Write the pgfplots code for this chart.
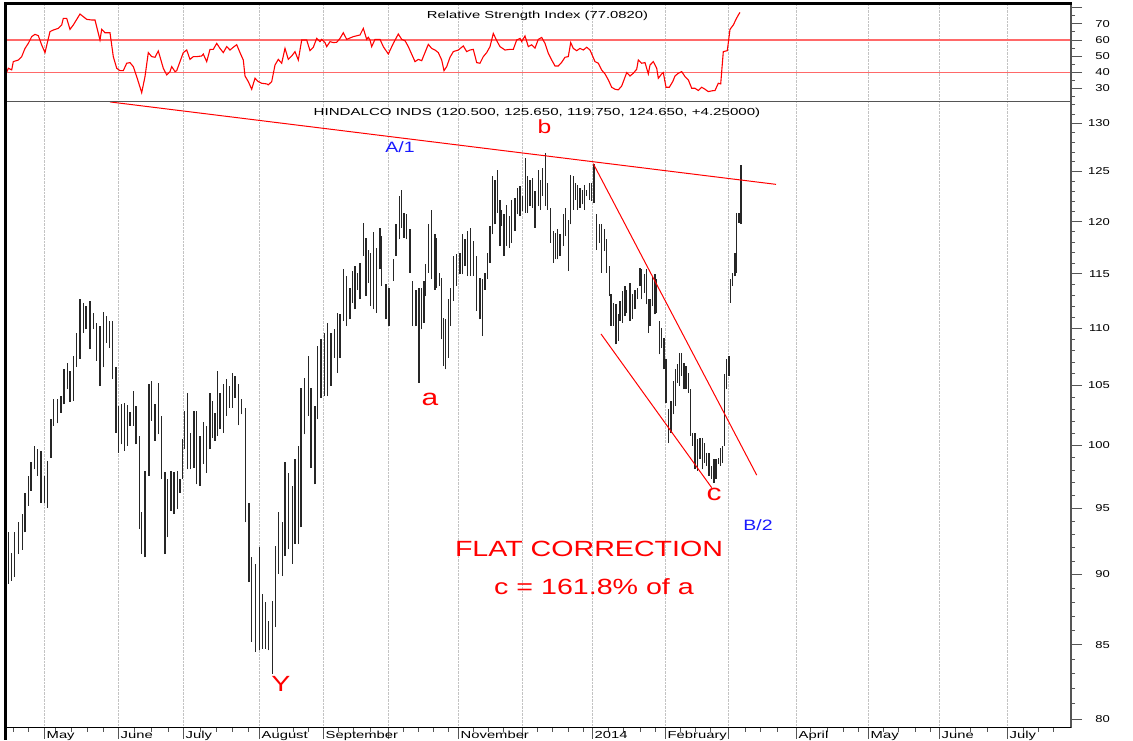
\documentclass[border=0pt]{standalone}
\usepackage{fontspec}
\setmainfont{Liberation Sans}
\newfontfamily\widefont[FakeStretch=1.45]{Liberation Sans}
\newfontfamily\hdfont[FakeStretch=1.48]{Liberation Sans}
\newfontfamily\numfont[FakeStretch=1.3]{Liberation Sans}
\newfontfamily\bigfont[FakeStretch=1.3]{Liberation Sans}
\usepackage{pgfplots}
\usepackage{pgfplotstable}
\pgfplotsset{compat=1.18}
\definecolor{lvlred}{RGB}{255,105,105}
\definecolor{axgray}{RGB}{85,85,85}
\definecolor{gridgray}{RGB}{195,195,195}
\definecolor{annblue}{RGB}{25,25,255}

\pgfplotstableread{
x h l
8.3 93.14 89.33
11.7 91.60 89.56
14.3 93.19 89.81
18.3 93.95 91.52
22.3 94.54 91.84
25.0 96.22 93.14
28.3 97.53 95.18
31.0 98.65 96.35
34.3 99.95 98.06
37.7 99.67 97.53
41.0 99.54 95.44
44.3 97.53 95.44
47.7 98.73 95.05
51.0 102.14 99.00
53.3 103.87 101.59
57.3 103.82 101.81
61.0 104.10 102.70
64.0 106.40 103.40
67.3 106.98 104.67
70.0 106.26 103.59
73.3 107.56 103.68
76.7 109.62 106.63
80.0 112.63 107.27
83.3 112.33 109.62
86.0 112.02 109.92
90.0 112.48 108.14
93.3 111.41 109.92
96.7 110.51 107.12
100.0 110.21 104.95
103.3 111.50 106.55
106.7 111.11 108.73
109.3 110.66 108.29
112.7 110.66 105.52
116.0 106.63 101.04
118.3 103.25 99.40
121.7 103.40 100.08
124.3 103.48 99.54
127.7 103.31 99.95
130.0 102.75 101.59
133.3 104.53 101.59
136.0 103.25 100.08
139.3 100.76 93.40
141.7 94.67 91.52
145.0 97.93 91.27
149.0 105.10 97.53
151.7 105.38 102.00
155.0 103.40 100.35
158.3 105.24 100.90
161.7 102.42 97.27
165.0 97.85 91.52
167.7 97.27 92.77
171.0 97.93 94.79
174.0 97.85 94.54
177.7 97.93 94.92
180.0 97.27 96.22
182.3 100.49 97.27
184.3 102.84 99.67
187.7 104.33 98.06
190.7 101.04 98.06
194.0 102.84 98.20
196.7 102.84 96.87
200.0 100.76 96.74
203.3 101.92 98.47
206.7 101.59 97.80
210.0 104.38 99.67
212.3 103.68 100.63
215.0 102.70 100.35
217.3 106.26 100.76
220.0 104.38 101.31
223.3 105.10 101.04
226.7 105.52 102.42
229.3 104.95 103.11
232.7 106.03 103.11
235.0 105.81 103.96
238.3 105.10 101.64
241.7 103.82 102.56
245.7 103.11 93.90
249.0 95.39 89.44
251.7 91.27 85.17
255.7 90.78 84.49
259.3 92.02 84.60
262.3 88.60 84.72
265.7 88.00 84.72
268.3 86.69 84.60
272.3 88.05 83.01
275.7 92.14 86.22
278.3 94.67 90.05
282.3 93.95 89.88
285.0 98.65 91.40
288.3 97.80 91.89
292.3 96.74 90.78
295.0 98.87 92.27
298.3 99.95 92.27
301.0 104.81 93.52
304.3 105.67 100.90
308.3 107.56 102.42
311.0 104.81 98.20
315.0 103.25 96.87
317.7 108.44 102.14
321.0 109.03 103.96
324.3 109.62 104.10
327.7 110.51 104.10
331.0 109.62 104.95
334.3 109.92 107.41
337.7 111.41 106.11
340.0 111.26 107.41
343.3 115.41 110.66
346.7 114.79 110.21
350.0 113.70 110.81
352.7 115.26 112.32
355.0 115.72 111.71
357.3 115.04 113.54
360.0 116.04 112.63
363.3 119.88 116.67
366.0 118.43 112.93
368.3 117.30 114.17
370.7 116.99 112.02
373.3 118.97 111.71
376.7 117.46 111.41
380.0 119.40 115.41
381.7 118.59 113.85
386.0 114.01 110.81
389.0 113.70 110.21
393.3 116.36 114.32
396.0 119.72 116.67
399.3 122.58 118.27
401.7 123.18 119.40
404.0 120.87 118.43
406.7 120.70 118.27
410.0 119.23 115.10
412.7 114.32 110.21
416.0 113.54 110.21
419.0 113.70 105.24
421.7 113.70 109.91
424.0 114.32 110.51
425.7 115.88 112.93
428.3 119.72 115.10
431.7 121.19 114.48
435.0 118.75 113.54
436.7 118.43 113.70
439.3 115.10 113.85
441.7 114.63 109.01
443.3 110.96 106.67
445.7 110.81 106.39
448.3 112.63 107.40
450.7 113.70 110.21
453.3 116.67 112.48
456.7 116.83 113.85
460.0 116.99 114.94
462.7 118.75 114.94
465.0 118.27 115.72
467.3 119.07 114.79
470.7 119.40 114.79
473.3 118.11 114.79
476.7 116.67 111.56
480.0 114.63 110.81
482.7 114.48 109.31
485.0 115.10 113.54
487.3 116.99 114.48
490.0 119.56 116.04
492.3 124.52 118.75
495.0 124.19 119.72
497.3 125.14 120.87
500.0 122.18 117.62
501.7 121.19 119.56
504.0 120.70 116.67
506.7 121.59 117.62
509.3 120.54 117.46
511.7 122.18 117.94
515.0 122.35 119.07
517.3 123.35 120.70
520.0 123.52 120.54
522.3 122.51 121.03
525.7 126.40 120.87
527.3 124.52 120.87
530.0 124.19 121.52
532.3 124.35 121.36
535.0 123.01 119.40
538.3 125.14 121.52
540.7 124.19 121.19
542.7 125.38 122.51
545.7 126.91 121.52
547.7 123.85 121.19
550.7 121.36 117.94
553.3 119.07 116.04
555.7 118.91 116.36
557.7 119.23 116.36
560.0 118.75 116.67
563.3 120.70 117.62
565.7 121.36 118.59
568.3 120.20 115.26
570.7 124.69 119.72
573.3 124.52 121.19
575.7 123.85 122.18
577.7 123.68 121.19
580.0 123.35 121.36
582.3 123.18 121.69
584.3 123.68 121.19
586.7 123.18 122.51
589.3 123.85 122.18
591.7 123.85 122.01
594.0 125.81 121.85
596.7 120.70 117.30
599.3 119.72 117.94
601.7 119.72 115.10
604.3 119.23 117.14
606.7 118.27 115.10
609.3 115.72 112.93
611.0 113.08 110.21
613.3 112.32 110.21
616.0 112.17 108.57
618.3 111.26 108.87
620.0 112.48 110.66
622.7 113.39 110.51
625.0 113.85 111.11
626.7 113.54 111.41
630.0 114.17 110.66
632.7 113.08 110.81
635.0 113.54 111.71
637.3 113.70 112.63
640.0 115.57 113.85
641.7 115.41 112.63
644.3 114.94 113.24
646.7 115.41 112.17
648.3 112.63 109.61
650.0 112.63 110.21
652.7 114.79 112.02
655.0 114.94 111.26
656.7 114.48 111.41
659.3 110.66 107.69
661.7 110.06 108.28
664.0 109.16 106.39
666.0 107.25 103.53
668.3 102.97 100.22
671.0 103.67 101.04
673.3 105.38 102.56
675.7 106.39 103.25
677.3 106.82 105.24
679.3 107.84 104.95
681.7 107.84 105.81
684.0 106.96 104.67
686.0 106.67 104.67
688.3 106.10 104.38
690.7 104.67 100.76
692.7 101.04 99.95
695.0 101.04 98.06
697.3 100.49 97.93
700.0 100.63 98.87
702.3 100.63 98.06
704.3 100.22 98.60
706.7 99.40 98.33
709.0 99.40 97.53
711.7 98.33 97.27
714.0 98.87 97.01
716.0 98.87 97.27
718.3 99.00 98.46
720.7 99.81 98.33
722.7 99.95 98.60
724.3 105.95 99.95
726.7 107.25 104.67
729.0 107.55 105.81
730.7 114.48 112.32
732.7 115.10 113.85
735.0 116.99 114.79
736.7 120.87 115.10
739.0 120.87 119.88
741.0 125.65 119.75
}\pricedata

\pgfplotstableread{
x r
7.0 40.4
8.3 42.5
11.7 41.5
13.3 46.6
18.3 47.6
21.7 49.7
25.0 54.8
28.3 57.9
31.7 62.1
35.0 63.5
38.3 62.7
41.7 56.9
45.0 52.2
50.0 65.2
53.3 66.2
58.3 67.2
61.7 69.3
63.3 73.4
66.7 73.4
70.0 66.6
73.3 69.3
80.0 76.1
86.7 72.8
91.7 72.4
95.0 72.4
100.0 60.0
101.7 66.6
105.0 64.5
110.0 64.5
113.3 49.7
116.7 42.5
120.0 41.0
123.3 41.0
126.7 45.6
130.0 46.0
133.3 43.5
136.7 37.3
141.7 27.4
145.0 37.3
148.3 52.2
151.7 49.7
155.0 49.3
158.3 53.2
163.3 42.5
166.7 38.4
170.0 40.4
171.7 43.5
175.0 40.4
176.7 41.0
180.0 46.6
183.3 52.2
186.7 53.8
190.0 48.0
193.3 49.7
196.7 49.7
201.7 50.1
203.3 51.3
206.7 46.6
210.0 54.2
213.3 54.2
216.7 57.9
220.0 54.8
223.3 52.2
226.7 55.9
230.0 53.8
233.3 55.5
236.7 57.1
240.0 52.2
243.3 47.6
245.0 37.7
248.3 34.2
251.7 29.5
255.0 36.3
258.3 34.2
261.7 33.2
266.7 32.8
268.3 32.2
271.7 34.2
275.0 44.5
278.3 48.0
281.7 45.6
285.0 54.8
288.3 48.0
291.7 50.1
295.0 52.8
298.3 47.6
301.7 60.0
306.7 60.0
310.0 53.4
313.3 55.5
316.7 61.0
320.0 59.0
321.7 60.4
325.0 58.4
326.7 55.9
330.0 59.0
333.3 58.4
336.7 58.6
340.0 61.0
343.3 64.5
346.7 60.4
353.3 62.1
360.0 63.1
363.3 67.2
366.7 60.4
368.3 61.7
370.0 60.0
371.7 55.9
375.0 60.4
380.0 60.4
383.3 55.9
388.3 51.3
393.3 57.9
398.3 63.7
401.7 60.4
405.0 59.6
408.3 55.9
415.0 46.6
418.3 48.0
421.7 47.2
428.3 57.3
431.7 54.8
435.0 53.8
438.3 52.2
441.7 47.6
444.0 41.0
446.7 43.5
450.0 49.3
453.3 52.8
458.3 53.8
463.3 56.3
466.7 52.8
470.0 53.8
473.3 54.2
476.7 46.0
480.0 45.6
483.3 49.7
486.7 52.2
490.0 55.9
493.3 64.1
496.7 59.6
500.0 55.9
505.0 53.8
510.0 54.2
513.3 54.2
516.7 60.0
520.0 61.0
521.7 59.0
525.0 62.5
528.3 55.9
531.7 57.0
535.0 55.0
538.3 60.4
541.7 61.6
545.0 57.9
548.3 51.8
551.7 47.6
555.0 43.9
558.3 43.9
561.7 46.2
565.0 49.3
568.3 49.7
570.7 58.4
573.3 54.8
576.7 53.4
580.0 54.8
583.3 53.8
586.7 55.5
590.0 53.8
595.0 46.6
598.3 45.6
601.7 41.4
605.0 39.0
608.3 35.3
611.7 30.7
615.0 29.5
618.3 29.1
621.7 31.5
626.7 39.8
630.0 37.7
633.3 39.4
636.7 41.9
638.3 47.6
641.7 45.6
645.0 46.0
648.3 39.0
650.0 44.5
653.3 46.6
656.7 42.5
658.3 36.3
661.7 39.0
663.3 39.8
666.0 30.7
669.3 30.7
672.7 34.2
675.0 37.7
678.3 39.4
681.7 40.4
685.0 37.3
688.3 35.3
691.7 30.1
695.0 30.1
698.3 28.7
701.7 30.7
705.0 29.5
708.3 28.0
711.7 28.5
715.0 28.7
718.3 33.2
720.7 32.8
723.3 52.8
727.3 53.4
730.0 66.6
733.3 69.3
736.0 72.8
738.3 75.5
740.0 77.1
}\rsidata

\begin{document}
\begin{tikzpicture}
\useasboundingbox (0pt,0pt) rectangle (1133pt,-740pt);
\pgfplotsset{
  chartbase/.style={
    scale only axis, width=1063pt, xmin=7, xmax=1070,
    anchor=south west, clip=false,
    axis line style={draw=none},
    tick align=outside,
    major tick length=12pt, minor tick length=5pt,
    tick style={axgray, line width=0.9pt},
    xtick={44,118,183,259,323,388,458,522,592,665,728,796,868,939,1007},
    xmajorgrids, major grid style={gridgray, densely dotted, line width=0.7pt},
    ytick pos=right, yticklabel pos=right,
    yticklabel style={anchor=east, inner sep=0pt, xshift=28pt,
      font=\numfont\fontsize{10}{12}\selectfont},
  }
}
% ---------------- price panel ----------------
\begin{axis}[chartbase,
  at={(7pt,-727pt)}, height=625pt,
  ymode=log, ymin=79.5, ymax=132.3,
  xtick pos=bottom,
  xticklabels={May,June,July,August,September,,November,,2014,February,,April,May,June,July},
  xticklabel style={anchor=north west, inner sep=0pt, xshift=2.5pt, yshift=7.5pt,
    font=\widefont\fontsize{10.2}{12}\selectfont},
  minor xtick={13,28,55,71,87,103,134,151,168,200,216,232,248,277,293,308,338,353,370,403,418,433,448,473,488,503,537,552,568,583,608,623,640,655,680,695,710,745,760,777,810,827,843,858,883,898,915,930,955,970,987,1023,1038,1053},
  ytick={80,85,90,95,100,105,110,115,120,125,130},
  yticklabels={80,85,90,95,100,105,110,115,120,125,130},
  minor ytick={81,82,83,84,86,87,88,89,91,92,93,94,96,97,98,99,101,102,103,104,106,107,108,109,111,112,113,114,116,117,118,119,121,122,123,124,126,127,128,129,131,132},
]
\addplot[draw=none, mark=none,
  error bars/.cd, y dir=plus, y explicit, error mark=none,
  error bar style={draw=black!85, line width=1.3pt}]
  table[x=x, y=l, y error plus expr=\thisrow{h}-\thisrow{l}] {\pricedata};
% trend lines
\draw[red, line width=1pt] (axis cs:110,132.3) -- (axis cs:776,123.7);
\draw[red, line width=1pt] (axis cs:593.3,125.8) -- (axis cs:756.7,97.6);
\draw[red, line width=1pt] (axis cs:601,109.5) -- (axis cs:711.7,96.6);
\end{axis}
% ---------------- RSI panel ----------------
\begin{axis}[chartbase,
  at={(7pt,-101pt)}, height=96.5pt,
  ymin=22.2, ymax=82,
  xticklabels={}, xtick style={draw=none},
  ytick={30,40,50,60,70,80},
  yticklabels={30,40,50,60,70,{}},
  minor ytick={25,35,45,55,65,75},
]
\draw[lvlred, line width=1.4pt] (axis cs:7,60) -- (axis cs:1070,60);
\draw[lvlred, line width=1.4pt] (axis cs:7,40) -- (axis cs:1070,40);
\addplot[red, line width=1.1pt, mark=none] table[x=x, y=r] {\rsidata};
\end{axis}
% ---------------- frame ----------------
\draw[axgray, line width=1.6pt] (6pt,-101.5pt) -- (1071pt,-101.5pt);
\draw[axgray, line width=1.6pt] (1071pt,-3pt) -- (1071pt,-727.5pt);
\draw[black, line width=1.6pt] (6pt,-727.5pt) -- (1071pt,-727.5pt);
\draw[black, line width=2.6pt] (5pt,-3.6pt) -- (1072pt,-3.6pt);
\draw[black, line width=2.6pt] (5.6pt,-2.3pt) -- (5.6pt,-740pt);
% ---------------- texts ----------------
\node[anchor=base, inner sep=0pt] at (537.5pt,-18.3pt) {\widefont\fontsize{10.2}{12}\selectfont Relative Strength Index (77.0820)};
\node[anchor=base, inner sep=0pt] at (537pt,-115.7pt) {\hdfont\fontsize{10.2}{12}\selectfont HINDALCO INDS (120.500, 125.650, 119.750, 124.650, +4.25000)};
\node[anchor=base, inner sep=0pt, text=annblue] at (400pt,-152.7pt) {\bigfont\fontsize{15}{18}\selectfont A/1};
\node[anchor=base, inner sep=0pt, text=annblue] at (758pt,-530pt) {\bigfont\fontsize{15}{18}\selectfont B/2};
\node[anchor=base, inner sep=0pt, text=red] at (544.5pt,-133pt) {\bigfont\fontsize{19}{22}\selectfont b};
\node[anchor=base, inner sep=0pt, text=red] at (430pt,-405pt) {\bigfont\fontsize{23}{26}\selectfont a};
\node[anchor=base, inner sep=0pt, text=red] at (714pt,-500pt) {\bigfont\fontsize{23}{26}\selectfont c};
\node[anchor=base, inner sep=0pt, text=red] at (281pt,-691pt) {\bigfont\fontsize{22}{26}\selectfont Y};
\node[anchor=base, inner sep=0pt, text=red] at (589pt,-556pt) {\bigfont\fontsize{22}{26}\selectfont FLAT CORRECTION};
\node[anchor=base, inner sep=0pt, text=red] at (594pt,-594pt) {\bigfont\fontsize{22}{26}\selectfont c = 161.8\% of a};
\end{tikzpicture}
\end{document}
